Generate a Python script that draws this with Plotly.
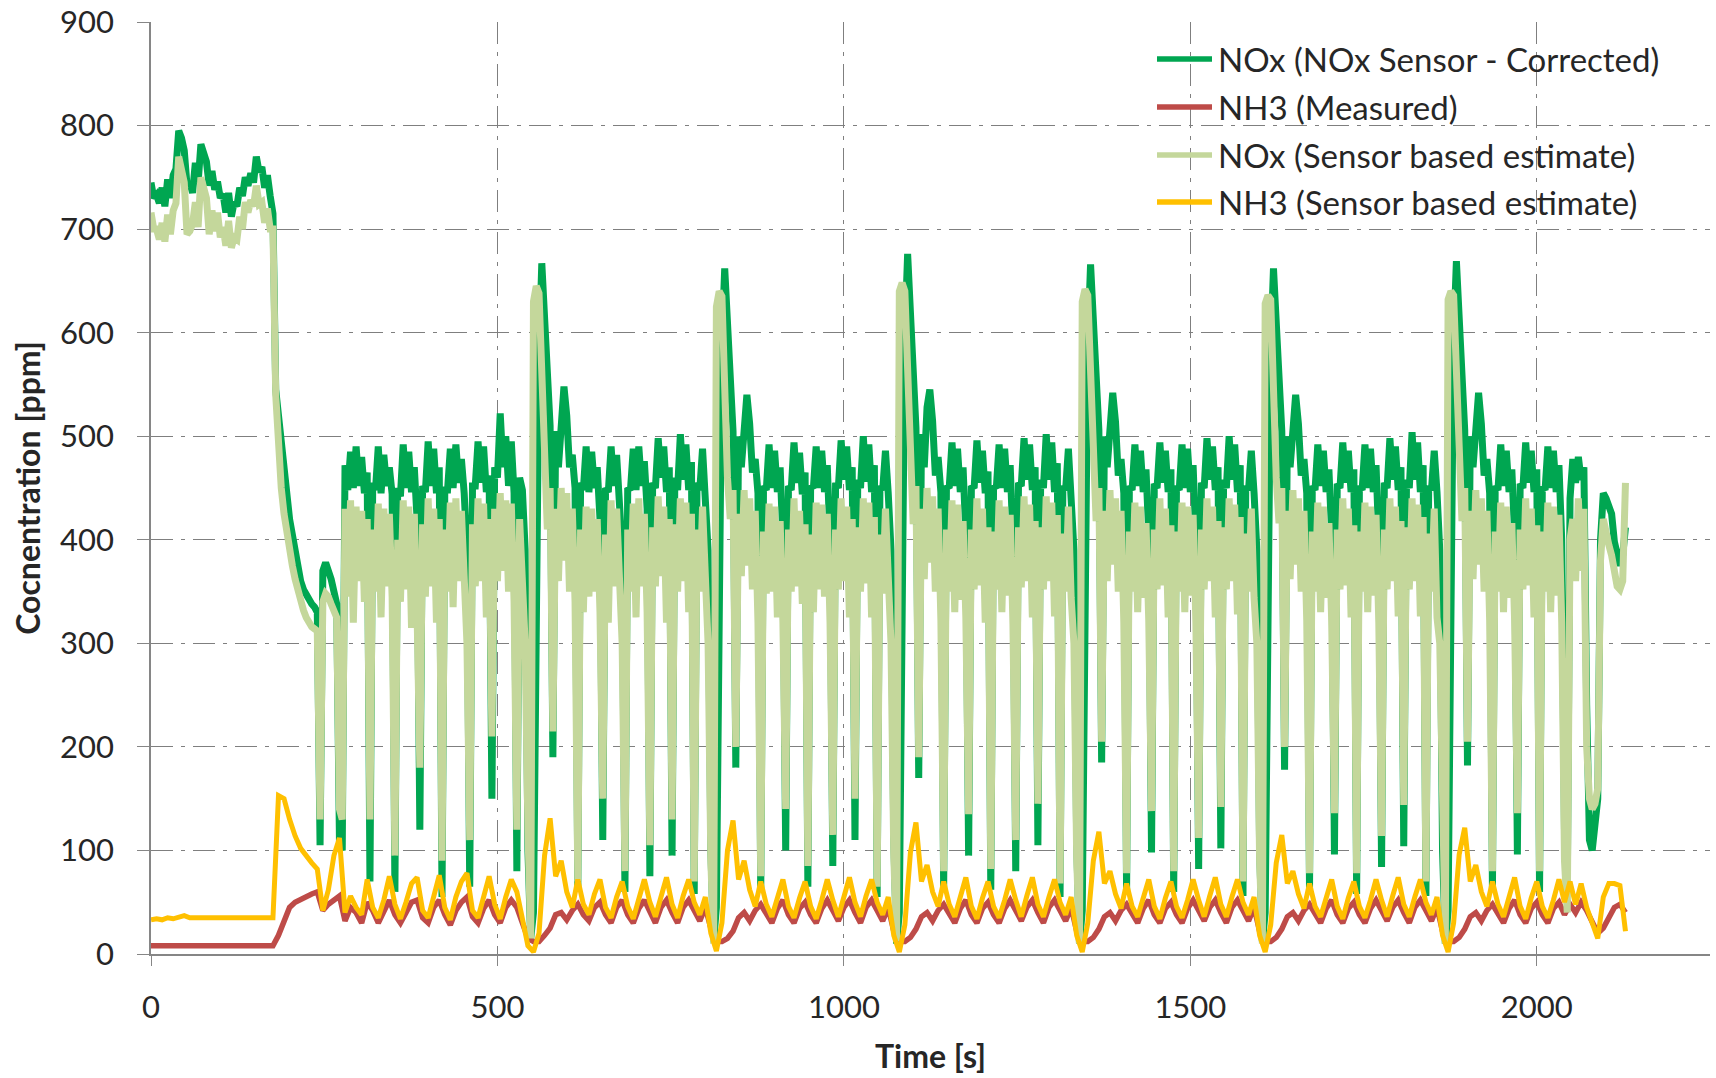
import plotly.graph_objects as go

# ---------------- data ----------------
NOX_DT = 4   # s between NOx samples (first sample at t = 0 s)
NH3_DT = 8   # s between NH3 samples (first sample at t = 0 s)

series_names = [
    "NOx (NOx Sensor - Corrected)",
    "NH3 (Measured)",
    "NOx (Sensor based estimate)",
    "NH3 (Sensor based estimate)",
]

# NOx (NOx Sensor - Corrected) [ppm], one row = 64 s
nox_sensor_corrected = [
    745, 730, 733, 725, 740, 722, 748, 730, 752, 758, 795, 788, 776, 742, 745, 735,
    764, 745, 782, 772, 765, 742, 756, 738, 746, 730, 734, 716, 735, 712, 726, 722,
    740, 732, 750, 742, 754, 745, 770, 755, 760, 740, 752, 732, 715, 545, 520, 490,
    462, 440, 420, 405, 390, 372, 360, 352, 346, 342, 338, 335, 330, 105, 370, 378,
    372, 362, 350, 338, 108, 100, 472, 448, 485, 450, 490, 452, 480, 445, 465, 70,
    455, 448, 490, 445, 482, 452, 470, 444, 60, 450, 442, 492, 450, 485, 446, 470,
    420, 120, 452, 446, 495, 452, 488, 445, 470, 55, 448, 448, 488, 450, 492, 455,
    478, 445, 390, 65, 452, 452, 495, 455, 490, 446, 462, 150, 470, 460, 522, 470,
    500, 452, 495, 445, 80, 460, 448, 390, 100, 15, 40, 320, 580, 667, 612, 540,
    510, 190, 505, 470, 525, 548, 520, 470, 482, 450, 65, 455, 448, 490, 446, 485,
    450, 470, 420, 110, 450, 446, 490, 452, 482, 445, 390, 60, 450, 448, 488, 448,
    490, 452, 476, 430, 75, 455, 450, 498, 460, 490, 446, 470, 95, 460, 448, 502,
    458, 492, 448, 475, 58, 455, 448, 488, 445, 390, 100, 12, 45, 340, 590, 662,
    605, 535, 505, 180, 500, 470, 520, 540, 512, 465, 478, 445, 60, 452, 448, 492,
    450, 486, 446, 470, 400, 100, 452, 448, 494, 455, 484, 444, 465, 65, 452, 450,
    490, 450, 486, 446, 472, 400, 85, 455, 450, 496, 458, 490, 448, 470, 110, 458,
    450, 500, 456, 492, 446, 472, 55, 452, 448, 486, 445, 390, 110, 10, 40, 330,
    600, 676, 615, 540, 508, 170, 502, 470, 528, 545, 515, 462, 480, 446, 62, 452,
    450, 494, 452, 488, 446, 470, 405, 95, 452, 450, 496, 455, 486, 445, 466, 62,
    452, 450, 492, 450, 488, 446, 472, 400, 80, 455, 452, 498, 458, 492, 448, 470,
    105, 458, 450, 502, 458, 494, 446, 474, 55, 452, 448, 488, 445, 390, 105, 10,
    42, 330, 590, 666, 608, 535, 506, 185, 500, 470, 522, 542, 514, 462, 478, 445,
    60, 452, 448, 492, 452, 486, 446, 468, 405, 98, 454, 450, 494, 455, 486, 446,
    468, 60, 452, 448, 492, 450, 488, 446, 472, 400, 82, 455, 450, 498, 458, 490,
    448, 470, 102, 458, 450, 500, 458, 492, 446, 472, 56, 452, 448, 486, 445, 390,
    100, 12, 40, 320, 585, 662, 605, 532, 505, 178, 500, 470, 520, 540, 512, 462,
    478, 445, 62, 452, 448, 492, 452, 486, 446, 468, 405, 96, 454, 450, 494, 455,
    486, 446, 468, 58, 452, 448, 492, 450, 488, 446, 472, 400, 84, 455, 450, 498,
    458, 490, 448, 470, 104, 458, 450, 504, 458, 494, 446, 472, 56, 452, 448, 486,
    446, 390, 100, 10, 42, 330, 595, 669, 610, 536, 506, 182, 500, 470, 522, 542,
    512, 462, 478, 445, 62, 452, 448, 492, 452, 486, 446, 468, 405, 96, 454, 450,
    494, 455, 486, 446, 468, 60, 452, 448, 490, 450, 486, 446, 472, 400, 120, 60,
    440, 478, 455, 480, 458, 470, 240, 110, 100, 125, 150, 400, 445, 440, 432, 425,
    398, 385, 375, 385, 412,
]

# NOx (Sensor based estimate) [ppm], one row = 64 s
nox_sensor_estimate = [
    716, 700, 700, 690, 706, 688, 714, 695, 718, 725, 770, 760, 745, 695, 698, 705,
    726, 702, 750, 740, 730, 695, 718, 698, 716, 692, 702, 684, 708, 682, 692, 690,
    712, 700, 726, 716, 728, 722, 742, 724, 726, 706, 720, 700, 700, 540, 480, 450,
    425, 405, 390, 375, 362, 350, 340, 332, 325, 320, 316, 314, 312, 130, 340, 348,
    345, 338, 330, 325, 140, 130, 430, 345, 438, 320, 432, 360, 428, 340, 420, 130,
    410, 350, 435, 325, 430, 355, 425, 345, 95, 400, 340, 438, 352, 432, 315, 425,
    330, 180, 415, 345, 440, 355, 430, 320, 420, 90, 410, 350, 436, 335, 440, 360,
    428, 340, 300, 110, 415, 355, 440, 360, 435, 325, 420, 210, 430, 360, 445, 370,
    438, 350, 435, 340, 120, 420, 350, 300, 120, 15, 630, 645, 638, 560, 470, 410,
    450, 215, 430, 360, 450, 380, 445, 350, 430, 340, 70, 410, 330, 432, 345, 430,
    350, 420, 330, 150, 405, 320, 438, 355, 430, 340, 300, 80, 410, 350, 435, 325,
    440, 355, 425, 330, 105, 412, 355, 442, 365, 432, 320, 420, 130, 415, 350, 440,
    360, 436, 330, 425, 70, 410, 350, 432, 345, 300, 90, 10, 625, 640, 635, 540,
    460, 420, 448, 200, 425, 365, 448, 375, 440, 352, 428, 320, 75, 408, 348, 435,
    350, 432, 325, 418, 320, 140, 410, 350, 440, 355, 428, 338, 415, 85, 405, 330,
    436, 352, 434, 345, 425, 320, 115, 410, 352, 440, 360, 432, 325, 420, 150, 412,
    350, 440, 358, 436, 325, 422, 65, 405, 348, 430, 342, 300, 95, 12, 640, 648,
    640, 550, 465, 415, 452, 190, 430, 362, 450, 378, 442, 350, 430, 322, 80, 410,
    350, 438, 330, 434, 342, 418, 325, 135, 410, 352, 440, 356, 430, 320, 412, 82,
    408, 352, 438, 330, 432, 346, 424, 318, 110, 412, 354, 442, 360, 434, 325, 418,
    145, 412, 352, 442, 360, 436, 326, 424, 68, 406, 350, 432, 344, 300, 92, 10,
    630, 642, 636, 545, 462, 418, 450, 205, 428, 360, 448, 376, 440, 350, 428, 320,
    78, 408, 350, 436, 330, 432, 344, 416, 322, 138, 410, 352, 440, 356, 430, 325,
    414, 80, 408, 350, 436, 330, 432, 346, 424, 320, 112, 410, 352, 440, 360, 432,
    325, 418, 142, 412, 352, 440, 360, 434, 328, 422, 70, 406, 350, 430, 344, 300,
    90, 10, 628, 636, 632, 540, 460, 416, 450, 200, 428, 362, 448, 376, 440, 350,
    428, 322, 78, 408, 350, 436, 330, 432, 344, 416, 322, 136, 410, 352, 440, 356,
    430, 325, 414, 78, 408, 350, 436, 330, 432, 346, 424, 320, 114, 410, 352, 440,
    360, 432, 326, 418, 144, 412, 352, 440, 360, 434, 326, 422, 70, 406, 350, 430,
    325, 300, 90, 10, 632, 640, 636, 548, 462, 418, 450, 205, 428, 362, 448, 376,
    440, 350, 428, 322, 80, 408, 350, 436, 330, 432, 344, 416, 322, 136, 410, 352,
    440, 356, 430, 325, 414, 80, 408, 350, 436, 330, 432, 346, 424, 320, 90, 40,
    400, 420, 360, 440, 370, 430, 200, 150, 140, 145, 160, 380, 420, 405, 395, 385,
    370, 355, 352, 360, 455,
]

# NH3 (Measured) [ppm], one row = 64 s
nh3_measured = [
    8, 8, 8, 8, 8, 9, 9, 8,
    8, 8, 8, 8, 8, 8, 8, 8,
    8, 8, 8, 8, 8, 8, 8, 18,
    32, 45, 50, 53, 56, 58, 60, 42,
    48, 52, 56, 32, 45, 40, 30, 50,
    42, 30, 40, 52, 38, 30, 40, 50,
    52, 35, 30, 45, 52, 38, 28, 42,
    50, 55, 36, 30, 44, 52, 38, 30,
    45, 52, 45, 30, 15, 12, 12, 18,
    25, 38, 40, 33, 42, 48, 38, 32,
    45, 50, 38, 30, 45, 52, 38, 30,
    44, 52, 40, 30, 45, 52, 40, 30,
    45, 52, 42, 32, 45, 25, 12, 12,
    15, 22, 35, 40, 32, 42, 48, 38,
    30, 44, 52, 38, 30, 44, 50, 38,
    30, 44, 52, 42, 32, 45, 52, 40,
    30, 45, 52, 42, 32, 45, 22, 12,
    12, 16, 24, 36, 40, 32, 42, 48,
    38, 30, 44, 52, 38, 30, 44, 50,
    38, 30, 44, 52, 42, 32, 45, 52,
    40, 30, 45, 52, 42, 32, 45, 22,
    12, 12, 16, 24, 36, 40, 32, 42,
    48, 38, 30, 44, 52, 38, 30, 44,
    50, 38, 30, 44, 52, 42, 32, 45,
    52, 40, 30, 45, 52, 42, 32, 45,
    22, 12, 12, 16, 24, 36, 40, 32,
    42, 48, 38, 30, 44, 52, 38, 30,
    44, 50, 38, 30, 44, 52, 42, 32,
    45, 52, 40, 30, 45, 52, 42, 32,
    45, 22, 12, 12, 16, 24, 36, 40,
    32, 42, 48, 38, 30, 44, 52, 38,
    30, 44, 50, 38, 30, 44, 50, 38,
    48, 40, 50, 42, 30, 20, 25, 35,
    45, 48, 40,
]

# NH3 (Sensor based estimate) [ppm], one row = 64 s
nh3_sensor_estimate = [
    33, 34, 33, 35, 34, 36, 37, 35,
    35, 34, 35, 34, 34, 35, 34, 34,
    35, 35, 34, 35, 35, 35, 35, 153,
    150, 130, 114, 102, 94, 88, 82, 42,
    62, 95, 112, 40, 56, 45, 38, 72,
    45, 35, 52, 75, 48, 34, 50, 68,
    74, 42, 35, 58, 76, 45, 33, 55,
    70, 78, 42, 35, 56, 75, 48, 34,
    55, 72, 60, 35, 8, 2, 20, 95,
    131, 75, 90, 60, 45, 72, 48, 38,
    58, 72, 45, 35, 55, 70, 46, 34,
    52, 72, 50, 36, 55, 74, 48, 35,
    56, 72, 50, 38, 55, 20, 3, 30,
    100, 129, 72, 90, 62, 46, 70, 48,
    36, 56, 72, 46, 35, 54, 70, 46,
    34, 52, 72, 52, 36, 55, 74, 50,
    36, 56, 72, 50, 38, 55, 18, 2,
    28, 98, 127, 70, 86, 60, 46, 70,
    48, 36, 56, 74, 46, 34, 54, 70,
    46, 35, 52, 72, 52, 36, 56, 74,
    48, 36, 55, 72, 50, 38, 55, 18,
    2, 30, 90, 118, 68, 80, 58, 44,
    68, 46, 36, 56, 72, 46, 34, 54,
    70, 46, 35, 52, 72, 52, 36, 56,
    74, 48, 36, 55, 72, 50, 38, 55,
    18, 2, 28, 88, 115, 68, 80, 58,
    44, 68, 46, 36, 56, 72, 46, 34,
    54, 70, 46, 35, 52, 72, 52, 36,
    56, 74, 48, 36, 55, 72, 50, 38,
    55, 18, 2, 30, 96, 122, 70, 86,
    60, 46, 70, 48, 36, 56, 74, 46,
    34, 54, 70, 46, 35, 52, 72, 50,
    70, 48, 68, 45, 30, 15, 55, 68,
    68, 66, 22,
]

x_tick_values = [0, 500, 1000, 1500, 2000]
y_tick_values = [0, 100, 200, 300, 400, 500, 600, 700, 800, 900]
x_title = "Time [s]"
y_title = "Cocnentration [ppm]"

# ---------------- styling ----------------
COLORS = ["#00A651", "#BE4B48", "#C4D79B", "#FFC000"]
WIDTHS = [7, 5.5, 7, 5]
FONT = "Lato, 'Open Sans', sans-serif"
TEXT = "#262626"
GRID = "#7F7F7F"
AXIS = "#868686"

series = [
    (nox_sensor_corrected, NOX_DT),
    (nh3_measured, NH3_DT),
    (nox_sensor_estimate, NOX_DT),
    (nh3_sensor_estimate, NH3_DT),
]

fig = go.Figure()
for (vals, dt), name, col, w in zip(series, series_names, COLORS, WIDTHS):
    fig.add_trace(go.Scatter(
        y=vals, x0=0, dx=dt, mode="lines", name=name,
        line=dict(color=col, width=w), showlegend=False, hoverinfo="skip",
    ))

# manual legend (long line samples like the original)
W, H = 1716, 1078
ML, MR, MT, MB = 151, 6, 22, 124
pw, ph = W - ML - MR, H - MT - MB
def px_x(px): return (px - ML) / pw
def px_y(py): return (H - MB - py) / ph

legend_rows = [59, 107, 155, 202]
for name, col, ry in zip(series_names, COLORS, legend_rows):
    fig.add_shape(type="line", xref="paper", yref="paper",
                  x0=px_x(1157), x1=px_x(1212), y0=px_y(ry), y1=px_y(ry),
                  line=dict(color=col, width=5.5))
    fig.add_annotation(xref="paper", yref="paper", x=px_x(1216), y=px_y(ry),
                       text=name, showarrow=False, xanchor="left", yanchor="middle",
                       font=dict(family=FONT, size=33, color=TEXT))

fig.update_layout(
    width=W, height=H,
    margin=dict(l=ML, r=MR, t=MT, b=MB, autoexpand=False),
    paper_bgcolor="white", plot_bgcolor="white",
    font=dict(family=FONT, color=TEXT),
)
fig.update_xaxes(
    range=[0, 2250], tickvals=x_tick_values, showgrid=True,
    gridcolor=GRID, gridwidth=1.3, griddash="22px,8px,4px,8px",
    showline=True, linecolor=AXIS, linewidth=1.5, zeroline=False,
    ticks="outside", ticklen=10, tickcolor=AXIS, tickwidth=1.3,
    tickfont=dict(family=FONT, size=31, color=TEXT), ticklabelstandoff=15,
    title=dict(text="<b>" + x_title + "</b>", font=dict(family=FONT, size=32, color=TEXT), standoff=22),
)
fig.update_yaxes(
    range=[0, 900], tickvals=y_tick_values, showgrid=True,
    gridcolor=GRID, gridwidth=1.3, griddash="22px,8px,4px,8px",
    showline=True, linecolor=AXIS, linewidth=1.5, zeroline=False,
    ticks="outside", ticklen=12, tickcolor=AXIS, tickwidth=1.3,
    tickfont=dict(family=FONT, size=31, color=TEXT), ticklabelstandoff=17,
    title=dict(text="<b>" + y_title + "</b>", font=dict(family=FONT, size=32, color=TEXT), standoff=10),
)

fig.write_html("out.html")
